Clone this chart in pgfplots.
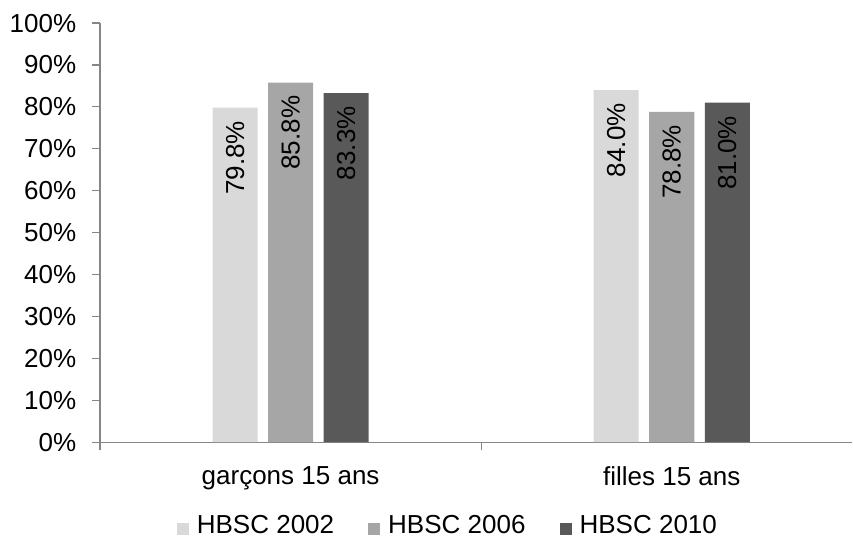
\documentclass[border=0pt]{standalone}
\usepackage{pgfplots}
\pgfplotsset{compat=1.18}
\usepackage{fontspec}
\setmainfont{Liberation Sans}
\definecolor{cA}{HTML}{D9D9D9}
\definecolor{cB}{HTML}{A6A6A6}
\definecolor{cC}{HTML}{595959}
\definecolor{axgrey}{HTML}{868686}
\newcommand{\lbl}{\fontsize{26bp}{30bp}\selectfont}
\begin{document}
\lbl
\begin{tikzpicture}
\begin{axis}[
    /pgf/number format/assume math mode=true,
    scale only axis,
    width=752bp, height=419bp,
    ybar=10.5bp, bar width=45bp,
    xmin=-0.5, xmax=1.474,
    ymin=0, ymax=100,
    axis x line=bottom, axis y line=left,
    axis line style={-, draw=axgrey, line width=1.2bp},
    ytick={0,10,...,100},
    yticklabel={\pgfmathprintnumber{\tick}\%},
    xtick={-0.5,0.5},
    xticklabels={},
    extra x ticks={0,1},
    extra x tick labels={garçons 15 ans, filles 15 ans},
    extra x tick style={major tick length=0pt,
        xticklabel style={anchor=north, inner sep=0pt, yshift=-24bp}},
    tick align=outside,
    major tick length=8bp,
    major tick style={draw=axgrey, line width=1.2bp},
    tick label style={font=\lbl},
    yticklabel style={xshift=-7bp},
    nodes near coords={\pgfmathprintnumber[fixed,fixed zerofill,precision=1]{\pgfplotspointmeta}\%},
    every node near coord/.append style={rotate=90, anchor=east, inner xsep=13bp,
        font=\lbl, text=black},
    legend style={draw=none, at={(0.461,-0.2005)}, anchor=center,
        inner sep=0pt, outer sep=0pt,
        nodes={inner sep=0pt},
        legend columns=3, font=\lbl,
        /tikz/every odd column/.append style={column sep=8bp},
        /tikz/every even column/.append style={column sep=34bp}},
    legend image code/.code={\fill[#1] (0bp,-9bp) rectangle (12bp,3bp);},
    clip=false,
]
\addplot[fill=cA, draw=none] coordinates {(0,79.8) (1,84.0)};
\addplot[fill=cB, draw=none] coordinates {(0,85.8) (1,78.8)};
\addplot[fill=cC, draw=none] coordinates {(0,83.3) (1,81.0)};
\legend{HBSC 2002, HBSC 2006, HBSC 2010}
\path (rel axis cs:-0.133,1.055) (rel axis cs:1,-0.2315);
\end{axis}
\end{tikzpicture}
\end{document}
